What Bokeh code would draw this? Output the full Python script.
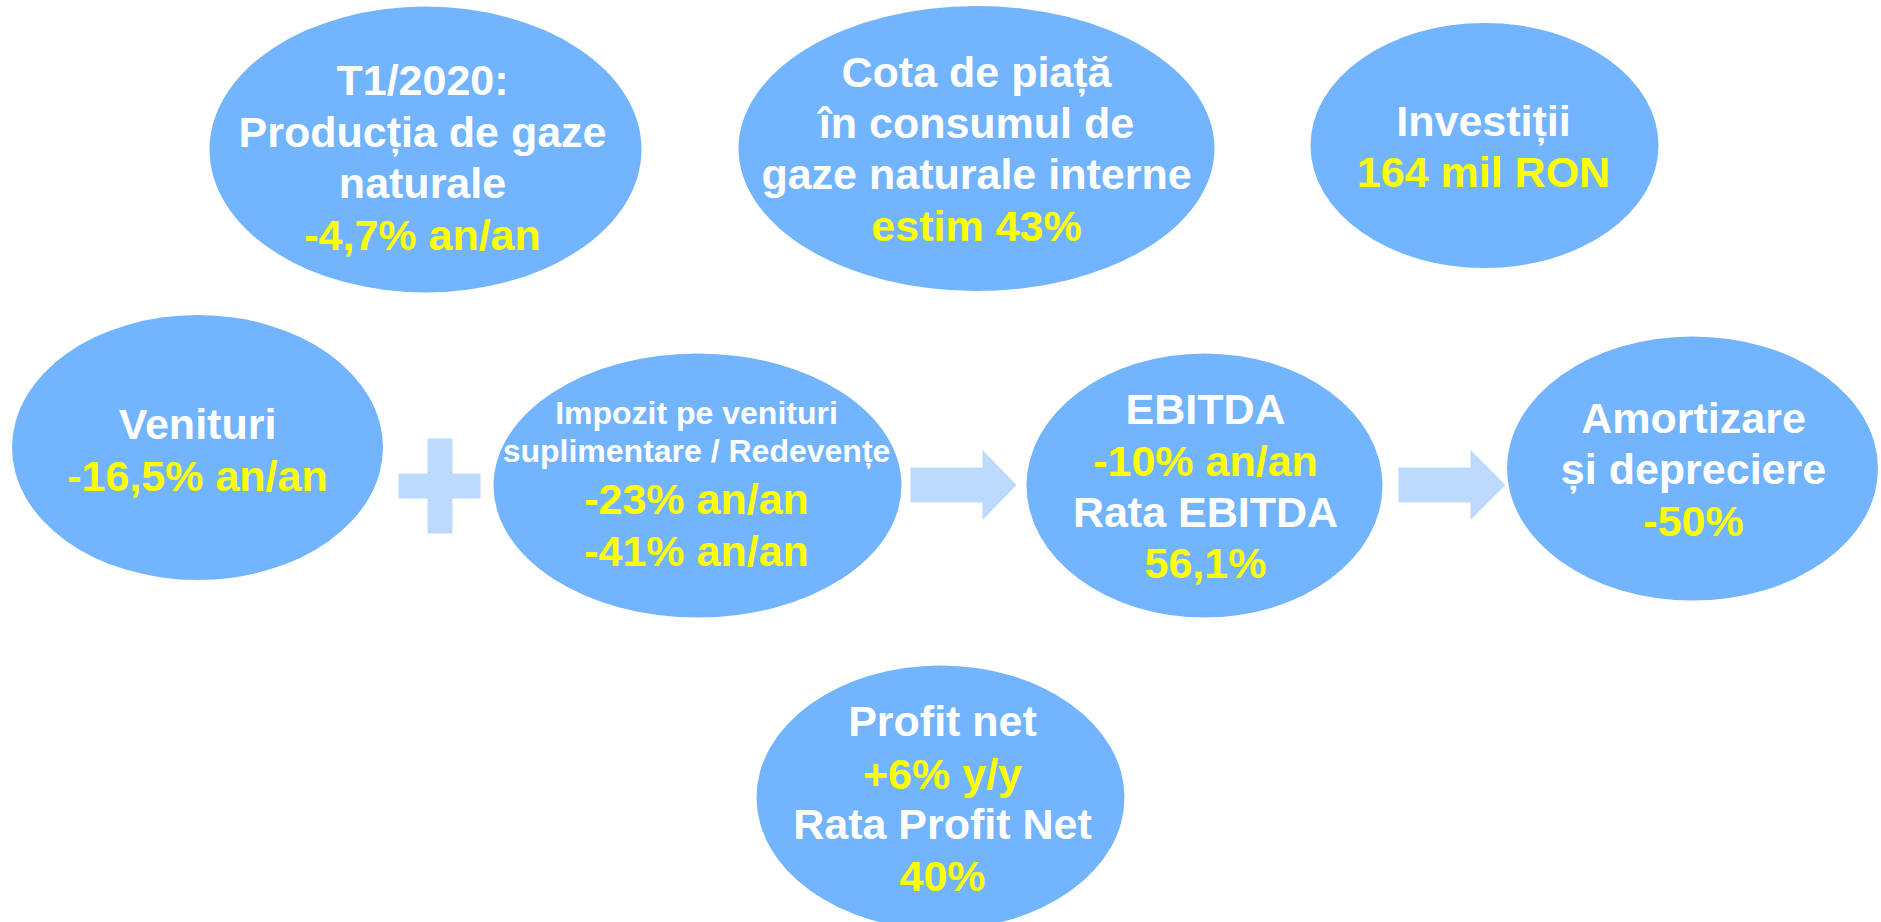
from bokeh.plotting import figure
from bokeh.models import Range1d
from bokeh.core.properties import value
from bokeh.embed import file_html
from bokeh.resources import INLINE

# ---------------- data (texts of each bubble) ----------------
productie_lines = ["T1/2020:", "Producția de gaze", "naturale", "-4,7% an/an"]
productie_colors = ["w", "w", "w", "y"]
cota_lines = ["Cota de piață", "în consumul de", "gaze naturale interne", "estim 43%"]
cota_colors = ["w", "w", "w", "y"]
investitii_lines = ["Investiții", "164 mil RON"]
investitii_colors = ["w", "y"]
venituri_lines = ["Venituri", "-16,5% an/an"]
venituri_colors = ["w", "y"]
impozit_lines = ["Impozit pe venituri", "suplimentare / Redevențe", "-23% an/an", "-41% an/an"]
impozit_colors = ["w", "w", "y", "y"]
ebitda_lines = ["EBITDA", "-10% an/an", "Rata EBITDA", "56,1%"]
ebitda_colors = ["w", "y", "w", "y"]
amortizare_lines = ["Amortizare", "și depreciere", "-50%"]
amortizare_colors = ["w", "w", "y"]
profit_lines = ["Profit net", "+6% y/y", "Rata Profit Net", "40%"]
profit_colors = ["w", "y", "w", "y"]

# ---------------- layout (page pixel coordinates) ----------------
PAGE_W, PAGE_H = 1881, 922
FONT = "Liberation Sans"
ELL = "#72B4FE"
LIGHT = "#BBDAFE"
COL = {"w": "#FFFFFF", "y": "#FFFF00"}
BIG, SMALL = 43, 32
SHIFT = 16  # rendering offset correction for text baselines

# (cx, cy, w, h, lines, colours, text x, baselines, font sizes)
bubbles = [
    (425, 149, 432, 286, productie_lines, productie_colors, 422, [95, 147, 198, 250], [BIG] * 4),
    (976, 148, 476, 285, cota_lines, cota_colors, 976, [87, 138, 189, 241], [BIG] * 4),
    (1484, 145, 348, 245, investitii_lines, investitii_colors, 1483, [136, 187], [BIG] * 2),
    (197, 447, 371, 265, venituri_lines, venituri_colors, 197, [439, 491], [BIG] * 2),
    (697, 485, 408, 264, impozit_lines, impozit_colors, 696, [428, 466, 514, 566], [SMALL, SMALL, BIG, BIG]),
    (1204, 485, 356, 264, ebitda_lines, ebitda_colors, 1205, [424, 476, 527, 578], [BIG] * 4),
    (1692, 468, 371, 264, amortizare_lines, amortizare_colors, 1693, [433, 484, 536], [BIG] * 3),
    (940, 797, 368, 264, profit_lines, profit_colors, 942, [736, 789, 839, 891], [BIG] * 4),
]


def Y(v):
    return PAGE_H - v


p = figure(width=PAGE_W, height=PAGE_H, output_backend="svg", toolbar_location=None,
           x_range=Range1d(0, PAGE_W), y_range=Range1d(0, PAGE_H), min_border=0)
p.axis.visible = False
p.grid.visible = False
p.outline_line_color = None
p.background_fill_color = "white"
p.border_fill_color = "white"

# ellipses
p.ellipse(x=[b[0] for b in bubbles], y=[Y(b[1]) for b in bubbles],
          width=[b[2] for b in bubbles], height=[b[3] for b in bubbles],
          fill_color=ELL, line_color=None)

# plus sign
p.quad(left=[398, 427], right=[480, 452], top=[Y(473), Y(438)], bottom=[Y(498), Y(533)],
       fill_color=LIGHT, line_color=None)


# arrows
def arrow(x0, xb, xt, cy, shaft_half, head_half):
    xs = [x0, xb, xb, xt, xb, xb, x0]
    ys = [cy - shaft_half, cy - shaft_half, cy - head_half, cy, cy + head_half, cy + shaft_half, cy + shaft_half]
    return xs, [Y(v) for v in ys]


a1 = arrow(910, 982, 1016, 484.5, 17.5, 35)
a2 = arrow(1398, 1470, 1505, 484.5, 17.5, 35)
p.patches(xs=[a1[0], a2[0]], ys=[a1[1], a2[1]], fill_color=LIGHT, line_color=None)

# texts
for cx, cy, w, h, lines, cols, tx, ys, sizes in bubbles:
    for t, c, yy, fs in zip(lines, cols, ys, sizes):
        p.text(x=[tx], y=[Y(yy - SHIFT)], text=[t], text_color=COL[c], text_font=value(FONT),
               text_font_style="bold", text_font_size=f"{fs}px",
               text_align="center", text_baseline="alphabetic")

open("out.html", "w").write(file_html(p, INLINE))
